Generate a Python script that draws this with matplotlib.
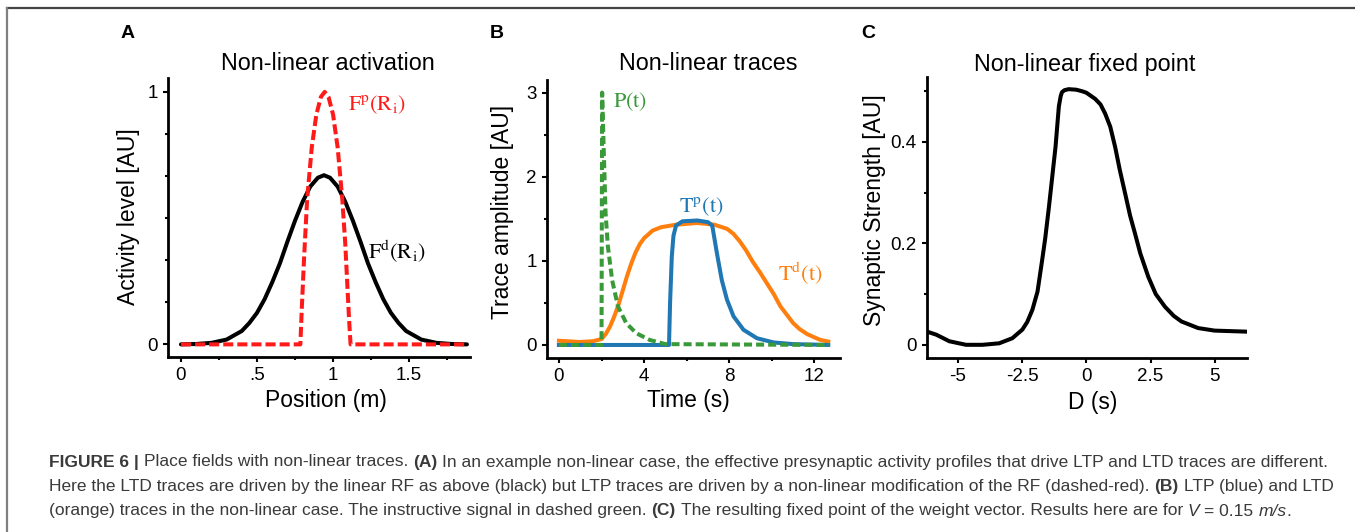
import numpy as np
import matplotlib
matplotlib.use("Agg")
import matplotlib.pyplot as plt
from matplotlib.lines import Line2D

plt.rcParams["font.family"] = ["Liberation Sans", "DejaVu Sans"]
plt.rcParams["mathtext.fontset"] = "stix"
plt.rcParams["axes.unicode_minus"] = False

W_PX, H_PX = 1355, 532

# ── Panel A: activation profiles ─────────────────────────────────────────────
pos_d = [0, 0.1, 0.2, 0.3, 0.4, 0.45, 0.5, 0.55, 0.6, 0.65, 0.7, 0.75, 0.8, 0.85,
         0.9, 0.94, 0.98, 1.03, 1.08, 1.13, 1.18, 1.23, 1.28, 1.33, 1.38, 1.43,
         1.48, 1.58, 1.68, 1.78, 1.88]
act_d = [0.0, 0.0015, 0.006, 0.019, 0.053, 0.085, 0.125, 0.179, 0.246, 0.32,
         0.407, 0.49, 0.565, 0.625, 0.66, 0.67, 0.66, 0.625, 0.565, 0.49, 0.407,
         0.32, 0.246, 0.179, 0.125, 0.085, 0.053, 0.019, 0.006, 0.0015, 0.0]
pos_p = [0, 0.785, 0.795, 0.81, 0.83, 0.86, 0.89, 0.92, 0.945, 0.97, 1.0, 1.03,
         1.06, 1.08, 1.095, 1.105, 1.115, 1.88]
act_p = [0, 0, 0.15, 0.35, 0.58, 0.78, 0.91, 0.98, 1.0, 0.98, 0.91, 0.78, 0.58,
         0.4, 0.22, 0.1, 0, 0]

# ── Panel B: traces ──────────────────────────────────────────────────────────
t_P = [0, 2.0, 2.03, 2.1, 2.19, 2.3, 2.5, 2.77, 3.16, 3.63, 4.26, 5.0, 12.7]
val_P = [0, 0, 3.0, 2.36, 1.57, 1.17, 0.77, 0.46, 0.26, 0.14, 0.06, 0.01, 0]
t_Tp = [0, 5.17, 5.22, 5.3, 5.38, 5.5, 5.8, 6.5, 7.0, 7.2, 7.42, 7.65, 7.89,
        8.2, 8.67, 9.3, 10.08, 11.0, 12.65]
val_Tp = [0, 0, 0.5, 1.05, 1.3, 1.42, 1.47, 1.48, 1.46, 1.42, 1.09, 0.77, 0.54,
          0.34, 0.18, 0.08, 0.03, 0.01, 0.0]
t_Td = [0, 1.0, 1.6, 2.0, 2.2, 2.4, 2.6, 2.8, 3.0, 3.2, 3.4, 3.6, 3.8, 4.0, 4.4,
        4.8, 5.5, 6.5, 7.3, 7.9, 8.2, 8.5, 8.8, 9.1, 9.45, 9.75, 10.1, 10.4,
        10.7, 11.0, 11.3, 11.65, 12.0, 12.28, 12.65]
val_Td = [0.05, 0.035, 0.045, 0.07, 0.13, 0.22, 0.34, 0.48, 0.65, 0.82, 0.97,
          1.1, 1.2, 1.27, 1.36, 1.40, 1.43, 1.45, 1.43, 1.38, 1.32, 1.23, 1.12,
          0.99, 0.86, 0.74, 0.6, 0.46, 0.36, 0.26, 0.19, 0.13, 0.09, 0.06, 0.04]

# ── Panel C: fixed point ─────────────────────────────────────────────────────
delay = [-6.2, -5.84, -5.33, -4.68, -4.04, -3.39, -2.88, -2.49, -2.3, -2.1, -1.9,
         -1.72, -1.6, -1.46, -1.33, -1.2, -1.07, -1.0, -0.95, -0.85, -0.69, -0.4,
         -0.17, 0.0, 0.34, 0.55, 0.73, 0.93, 1.12, 1.3, 1.51, 1.7, 1.89, 2.1,
         2.41, 2.7, 3.06, 3.4, 3.7, 4.35, 4.99, 6.2]
strength = [0.026, 0.02, 0.007, 0.0, 0.0, 0.003, 0.013, 0.03, 0.045, 0.069, 0.105,
            0.167, 0.21, 0.27, 0.33, 0.39, 0.47, 0.49, 0.498, 0.502, 0.504, 0.503,
            0.5, 0.497, 0.485, 0.474, 0.456, 0.43, 0.39, 0.345, 0.298, 0.255,
            0.22, 0.18, 0.134, 0.1, 0.075, 0.057, 0.046, 0.033, 0.028, 0.026]

RED = "#ff1a1a"
GREEN = "#3a9a3a"
BLUE = "#1f77b4"
ORANGE = "#ff7f0e"
LW = 2.9


def px_box(left, top, right, bottom):
    return [left / W_PX, 1 - bottom / H_PX, (right - left) / W_PX, (bottom - top) / H_PX]


def fx(x):
    return x / W_PX


def fy(y):
    return 1 - y / H_PX


def style_axes(ax):
    for s in ("top", "right"):
        ax.spines[s].set_visible(False)
    for s in ("left", "bottom"):
        ax.spines[s].set_linewidth(2.0)
    ax.tick_params(which="both", direction="out", width=1.5, labelsize=13.5)
    ax.tick_params(which="major", length=3.5, pad=4)
    ax.tick_params(which="minor", length=2.5)


fig = plt.figure(figsize=(W_PX / 100, H_PX / 100), dpi=100)

# ── A ────────────────────────────────────────────────────────────────────────
axA = fig.add_axes(px_box(168, 78, 470, 357))
axA.plot(pos_d, act_d, color="black", lw=LW, solid_capstyle="round")
axA.plot(pos_p, act_p, color=RED, lw=LW, dashes=(2.5, 1.0))
axA.set_xlim(-0.085, 1.9)
axA.set_ylim(-0.05, 1.055)
axA.set_xticks([0, 0.5, 1, 1.5], ["0", ".5", "1", "1.5"])
axA.set_xticks([0.25, 0.75, 1.25, 1.75], minor=True)
axA.set_yticks([0, 1], ["0", "1"])
axA.set_yticks([1 / 6, 2 / 6, 3 / 6, 4 / 6, 5 / 6], minor=True)
style_axes(axA)
axA.text(1.1, 0.95, r"$\mathrm{F^p(R_i)}$", color=RED, fontsize=16, va="center")
axA.text(1.23, 0.37, r"$\mathrm{F^d(R_i)}$", color="black", fontsize=16, va="center")

# ── B ────────────────────────────────────────────────────────────────────────
axB = fig.add_axes(px_box(547, 80, 840, 358))
axB.plot(t_Td, val_Td, color=ORANGE, lw=LW)
axB.plot(t_Tp, val_Tp, color=BLUE, lw=LW)
axB.plot(t_P, val_P, color=GREEN, lw=LW, dashes=(2.0, 1.0))
axB.set_xlim(-0.56, 13.2)
axB.set_ylim(-0.155, 3.15)
axB.set_xticks([0, 4, 8, 12])
axB.set_xticks([2, 6, 10], minor=True)
axB.set_yticks([0, 1, 2, 3])
axB.set_yticks([0.5, 1.5, 2.5], minor=True)
style_axes(axB)
axB.text(2.55, 2.89, r"$\mathrm{P(t)}$", color=GREEN, fontsize=16, va="center")
axB.text(5.65, 1.64, r"$\mathrm{T^p(t)}$", color=BLUE, fontsize=16, va="center")
axB.text(10.3, 0.86, r"$\mathrm{T^d(t)}$", color=ORANGE, fontsize=16, va="center")

# ── C ────────────────────────────────────────────────────────────────────────
axC = fig.add_axes(px_box(927, 77, 1247, 358))
axC.plot(delay, strength, color="black", lw=LW)
axC.set_xlim(-6.2, 6.25)
axC.set_ylim(-0.026, 0.528)
axC.set_xticks([-5, -2.5, 0, 2.5, 5], ["-5", "-2.5", "0", "2.5", "5"])
axC.set_yticks([0, 0.2, 0.4], ["0", "0.2", "0.4"])
axC.set_yticks([0.1, 0.3, 0.5], minor=True)
style_axes(axC)

# titles, labels, panel letters
for x, s in [(328, "Non-linear activation"), (708, "Non-linear traces"),
             (1085, "Non-linear fixed point")]:
    fig.text(fx(x), fy(64), s, fontsize=16.8, ha="center", va="center")
for x, y, s in [(326, 400, "Position (m)"), (688, 400, "Time (s)"), (1093, 402, "D (s)")]:
    fig.text(fx(x), fy(y), s, fontsize=16.5, ha="center", va="center")
for x, y, s in [(128, 217, "Activity level [AU]"), (502, 212, "Trace amplitude [AU]"),
                (875, 210, "Synaptic Strength [AU]")]:
    fig.text(fx(x), fy(y), s, fontsize=16.5, ha="center", va="center", rotation=90)
for x, s in [(128, "A"), (497, "B"), (868, "C")]:
    fig.text(fx(x), fy(33), s, fontsize=14, fontweight="bold", ha="center", va="center")

# frame lines
fig.add_artist(Line2D([fx(7), fx(1355)], [fy(8), fy(8)], color="#444444", lw=1.6))
fig.add_artist(Line2D([fx(7), fx(7)], [fy(8), fy(532)], color="#808080", lw=1.6))

# ── caption ──────────────────────────────────────────────────────────────────
cap_font = ["Liberation Sans Narrow", "Liberation Sans", "DejaVu Sans"]
cap_kw = dict(fontsize=12.5, color="#3a3a3a", family=cap_font, va="center")
renderer = fig.canvas.get_renderer()


def text_width(s, **kw):
    t = fig.text(0, 0, s, **kw)
    w = t.get_window_extent(renderer).width
    t.remove()
    return w


space_w = text_width("x x", **cap_kw) - text_width("xx", **cap_kw)

REG = {}
BOLD = {"fontweight": "bold"}
ITAL = {"fontstyle": "italic"}

caption_lines = [
    [("FIGURE 6 |", BOLD, True), ("Place fields with non-linear traces.", REG, True),
     ("(A)", BOLD, True),
     ("In an example non-linear case, the effective presynaptic activity profiles "
      "that drive LTP and LTD traces are different.", REG, True)],
    [("Here the LTD traces are driven by the linear RF as above (black) but LTP traces "
      "are driven by a non-linear modification of the RF (dashed-red).", REG, True),
     ("(B)", BOLD, True), ("LTP (blue) and LTD", REG, True)],
    [("(orange) traces in the non-linear case. The instructive signal in dashed green.",
      REG, True), ("(C)", BOLD, True),
     ("The resulting fixed point of the weight vector. Results here are for", REG, True),
     ("V", ITAL, True), ("= 0.15", REG, True), ("m/s", ITAL, True), (".", REG, False)],
]
line_y = [462, 487, 511]

for runs, y in zip(caption_lines, line_y):
    x = 49.0
    for i, (s, extra, spaced) in enumerate(runs):
        if i > 0 and spaced:
            x += space_w
        t = fig.text(fx(x), fy(y), s, **cap_kw, **extra)
        x += t.get_window_extent(renderer).width

fig.savefig("out.png", dpi=100)
plt.close(fig)
